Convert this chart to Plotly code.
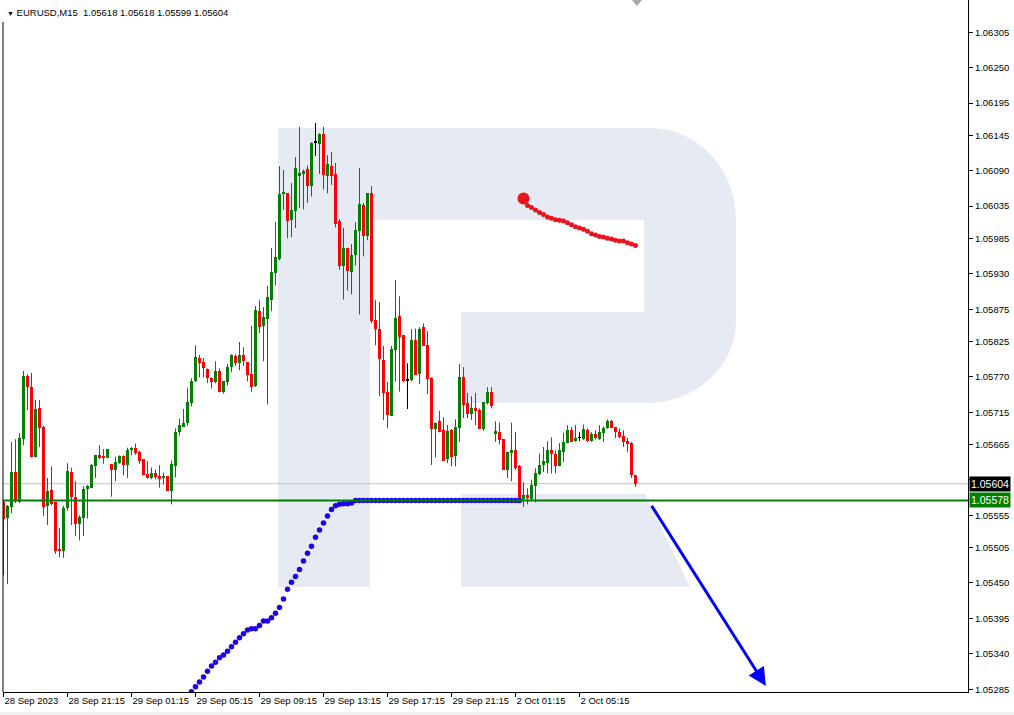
import plotly.graph_objects as go

# ---------------- data ----------------
symbol_title = "EURUSD,M15"
last_ohlc_text = "1.05618 1.05618 1.05599 1.05604"

time_labels = ["28 Sep 2023", "28 Sep 21:15", "29 Sep 01:15", "29 Sep 05:15", "29 Sep 09:15",
               "29 Sep 13:15", "29 Sep 17:15", "29 Sep 21:15", "2 Oct 01:15", "2 Oct 05:15"]
time_label_bars = [0, 16, 32, 48, 64, 80, 96, 112, 128, 144]

price_ticks = [1.06305, 1.06250, 1.06195, 1.06145, 1.06090, 1.06035, 1.05985, 1.05930, 1.05875,
               1.05825, 1.05770, 1.05715, 1.05665, 1.05610, 1.05555, 1.05505, 1.05450, 1.05395,
               1.05340, 1.05285]
price_tick_text = ["1.06305", "1.06250", "1.06195", "1.06145", "1.06090", "1.06035", "1.05985",
                   "1.05930", "1.05875", "1.05825", "1.05770", "1.05715", "1.05665", "1.05610",
                   "1.05555", "1.05505", "1.05450", "1.05395", "1.05340", "1.05285"]

opens = [1.05576, 1.05551, 1.05568, 1.05622, 1.05576, 1.05674, 1.05771, 1.05754, 1.05645, 1.05722,
         1.05692, 1.05570, 1.05594, 1.05576, 1.05502, 1.05500, 1.05567, 1.05622, 1.05584, 1.05541,
         1.05551, 1.05596, 1.05598, 1.05632, 1.05649, 1.05647, 1.05644, 1.05635, 1.05625, 1.05636,
         1.05647, 1.05633, 1.05656, 1.05659, 1.05653, 1.05642, 1.05619, 1.05613, 1.05620, 1.05616,
         1.05614, 1.05616, 1.05593, 1.05632, 1.05684, 1.05692, 1.05698, 1.05730, 1.05763, 1.05799,
         1.05793, 1.05782, 1.05768, 1.05762, 1.05779, 1.05746, 1.05762, 1.05785, 1.05802, 1.05791,
         1.05804, 1.05793, 1.05774, 1.05755, 1.05872, 1.05849, 1.05859, 1.05890, 1.05931, 1.05953,
         1.06054, 1.06055, 1.06013, 1.06027, 1.06082, 1.06085, 1.06092, 1.06066, 1.06134, 1.06131,
         1.06147, 1.06082, 1.06098, 1.06085, 1.06012, 1.05942, 1.05970, 1.05932, 1.05959, 1.05996,
         1.06036, 1.05988, 1.06055, 1.05858, 1.05845, 1.05796, 1.05746, 1.05709, 1.05811, 1.05864,
         1.05835, 1.05765, 1.05765, 1.05827, 1.05774, 1.05847, 1.05819, 1.05768, 1.05689, 1.05701,
         1.05687, 1.05642, 1.05687, 1.05647, 1.05690, 1.05769, 1.05729, 1.05713, 1.05721, 1.05718,
         1.05689, 1.05730, 1.05747, 1.05681, 1.05684, 1.05673, 1.05626, 1.05651, 1.05656, 1.05631,
         1.05581, 1.05586, 1.05581, 1.05600, 1.05619, 1.05633, 1.05636, 1.05656, 1.05650, 1.05631,
         1.05654, 1.05667, 1.05687, 1.05670, 1.05675, 1.05673, 1.05687, 1.05670, 1.05681, 1.05673,
         1.05683, 1.05690, 1.05701, 1.05692, 1.05684, 1.05678, 1.05670, 1.05667, 1.05618]
highs = [1.05578, 1.05571, 1.05669, 1.05673, 1.05683, 1.05779, 1.05774, 1.05776, 1.05734, 1.05734,
         1.05694, 1.05613, 1.05631, 1.05576, 1.05535, 1.05570, 1.05636, 1.05629, 1.05608, 1.05555,
         1.05600, 1.05602, 1.05635, 1.05649, 1.05664, 1.05658, 1.05658, 1.05635, 1.05646, 1.05648,
         1.05648, 1.05660, 1.05661, 1.05666, 1.05655, 1.05642, 1.05639, 1.05629, 1.05626, 1.05633,
         1.05621, 1.05616, 1.05640, 1.05690, 1.05705, 1.05720, 1.05753, 1.05768, 1.05819, 1.05804,
         1.05799, 1.05783, 1.05769, 1.05794, 1.05783, 1.05763, 1.05790, 1.05805, 1.05805, 1.05824,
         1.05816, 1.05793, 1.05849, 1.05880, 1.05889, 1.05878, 1.05911, 1.05970, 1.06010, 1.06097,
         1.06091, 1.06055, 1.06071, 1.06111, 1.06158, 1.06092, 1.06098, 1.06134, 1.06164, 1.06148,
         1.06158, 1.06114, 1.06119, 1.06102, 1.06015, 1.06001, 1.05970, 1.05976, 1.06010, 1.06094,
         1.06040, 1.06055, 1.06066, 1.05889, 1.05886, 1.05818, 1.05762, 1.05818, 1.05920, 1.05895,
         1.05835, 1.05791, 1.05844, 1.05845, 1.05847, 1.05853, 1.05841, 1.05769, 1.05699, 1.05717,
         1.05707, 1.05695, 1.05689, 1.05704, 1.05790, 1.05785, 1.05745, 1.05740, 1.05745, 1.05721,
         1.05731, 1.05754, 1.05754, 1.05701, 1.05699, 1.05673, 1.05654, 1.05699, 1.05684, 1.05633,
         1.05606, 1.05597, 1.05610, 1.05628, 1.05651, 1.05661, 1.05670, 1.05676, 1.05656, 1.05667,
         1.05683, 1.05695, 1.05692, 1.05695, 1.05684, 1.05696, 1.05690, 1.05684, 1.05687, 1.05695,
         1.05693, 1.05704, 1.05703, 1.05692, 1.05690, 1.05687, 1.05675, 1.05669, 1.05618]
lows = [1.05462, 1.05448, 1.05558, 1.05574, 1.05574, 1.05664, 1.05718, 1.05645, 1.05645, 1.05661,
        1.05554, 1.05540, 1.05570, 1.05495, 1.05490, 1.05489, 1.05562, 1.05540, 1.05523, 1.05516,
        1.05523, 1.05550, 1.05597, 1.05613, 1.05642, 1.05635, 1.05644, 1.05584, 1.05608, 1.05635,
        1.05617, 1.05613, 1.05648, 1.05649, 1.05635, 1.05617, 1.05612, 1.05611, 1.05611, 1.05598,
        1.05603, 1.05593, 1.05572, 1.05614, 1.05679, 1.05692, 1.05694, 1.05724, 1.05762, 1.05769,
        1.05769, 1.05760, 1.05752, 1.05760, 1.05746, 1.05744, 1.05757, 1.05777, 1.05787, 1.05780,
        1.05787, 1.05763, 1.05747, 1.05754, 1.05838, 1.05794, 1.05727, 1.05872, 1.05912, 1.05951,
        1.06029, 1.05985, 1.05987, 1.06001, 1.06032, 1.06030, 1.06040, 1.06050, 1.06113, 1.06085,
        1.06061, 1.06055, 1.06068, 1.06002, 1.05936, 1.05890, 1.05904, 1.05898, 1.05943, 1.05867,
        1.05957, 1.05982, 1.05853, 1.05819, 1.05740, 1.05703, 1.05690, 1.05709, 1.05763, 1.05747,
        1.05762, 1.05720, 1.05763, 1.05773, 1.05759, 1.05818, 1.05743, 1.05633, 1.05645, 1.05684,
        1.05640, 1.05636, 1.05631, 1.05631, 1.05669, 1.05706, 1.05706, 1.05703, 1.05695, 1.05689,
        1.05686, 1.05727, 1.05721, 1.05669, 1.05665, 1.05626, 1.05613, 1.05608, 1.05625, 1.05578,
        1.05568, 1.05572, 1.05577, 1.05575, 1.05617, 1.05622, 1.05620, 1.05620, 1.05620, 1.05631,
        1.05638, 1.05667, 1.05669, 1.05669, 1.05670, 1.05672, 1.05669, 1.05669, 1.05673, 1.05672,
        1.05669, 1.05689, 1.05690, 1.05675, 1.05675, 1.05661, 1.05653, 1.05613, 1.05599]
closes = [1.05550, 1.05569, 1.05622, 1.05578, 1.05675, 1.05771, 1.05754, 1.05646, 1.05720, 1.05691,
          1.05568, 1.05592, 1.05573, 1.05500, 1.05500, 1.05567, 1.05624, 1.05584, 1.05541, 1.05553,
          1.05596, 1.05601, 1.05633, 1.05648, 1.05644, 1.05644, 1.05658, 1.05625, 1.05637, 1.05647,
          1.05633, 1.05656, 1.05660, 1.05652, 1.05640, 1.05617, 1.05613, 1.05620, 1.05615, 1.05611,
          1.05615, 1.05593, 1.05634, 1.05685, 1.05695, 1.05698, 1.05731, 1.05763, 1.05801, 1.05791,
          1.05783, 1.05768, 1.05762, 1.05779, 1.05747, 1.05763, 1.05785, 1.05804, 1.05791, 1.05804,
          1.05794, 1.05773, 1.05754, 1.05873, 1.05847, 1.05863, 1.05894, 1.05932, 1.05956, 1.06054,
          1.06055, 1.06012, 1.06029, 1.06094, 1.06086, 1.06089, 1.06066, 1.06133, 1.06134, 1.06147,
          1.06083, 1.06100, 1.06082, 1.06008, 1.05942, 1.05970, 1.05934, 1.05959, 1.05998, 1.06038,
          1.05988, 1.06055, 1.05857, 1.05844, 1.05797, 1.05745, 1.05710, 1.05813, 1.05861, 1.05832,
          1.05763, 1.05765, 1.05827, 1.05773, 1.05845, 1.05818, 1.05766, 1.05689, 1.05699, 1.05684,
          1.05640, 1.05686, 1.05645, 1.05692, 1.05769, 1.05727, 1.05713, 1.05721, 1.05717, 1.05689,
          1.05731, 1.05747, 1.05724, 1.05686, 1.05672, 1.05626, 1.05654, 1.05656, 1.05628, 1.05580,
          1.05586, 1.05583, 1.05602, 1.05620, 1.05633, 1.05639, 1.05656, 1.05650, 1.05631, 1.05656,
          1.05669, 1.05687, 1.05669, 1.05675, 1.05675, 1.05689, 1.05670, 1.05681, 1.05675, 1.05684,
          1.05690, 1.05701, 1.05690, 1.05684, 1.05676, 1.05669, 1.05665, 1.05617, 1.05604]

bid_price = 1.05604
level_price = 1.05578

# blue dotted indicator (bar index -> price)
blue_start_bar = 46
blue_values = [1.05273, 1.05281, 1.05289, 1.05296, 1.05304, 1.05313, 1.05321, 1.05327, 1.05334, 1.05338,
               1.05344, 1.05351, 1.05358, 1.05365, 1.05371, 1.05377, 1.05379, 1.05379, 1.05384, 1.05391,
               1.05391, 1.05396, 1.05403, 1.05412, 1.05425, 1.05440, 1.05451, 1.05460, 1.05471, 1.05484,
               1.05496, 1.05507, 1.05521, 1.05532, 1.05543, 1.05554, 1.05564, 1.05570, 1.05572, 1.05573,
               1.05573, 1.05574, 1.05578, 1.05578, 1.05578, 1.05578, 1.05578, 1.05578, 1.05578, 1.05578,
               1.05578, 1.05578, 1.05578, 1.05578, 1.05578, 1.05578, 1.05578, 1.05578, 1.05578, 1.05578,
               1.05578, 1.05578, 1.05578, 1.05578, 1.05578, 1.05578, 1.05578, 1.05578, 1.05578, 1.05578,
               1.05578, 1.05578, 1.05578, 1.05578, 1.05578, 1.05578, 1.05578, 1.05578, 1.05578, 1.05578,
               1.05578, 1.05578, 1.05578, 1.05578]

# red dotted indicator (bar index -> price), first point drawn large
red_start_bar = 130
red_values = [1.06047, 1.06036, 1.06033, 1.06029, 1.06025, 1.06022, 1.06018, 1.06016, 1.06014, 1.06013,
              1.06012, 1.06009, 1.06006, 1.06003, 1.06001, 1.05999, 1.05996, 1.05992, 1.05990, 1.05988,
              1.05987, 1.05985, 1.05984, 1.05982, 1.05981, 1.05981, 1.05978, 1.05976, 1.05974]

# forecast arrow (bar index, price)
arrow_from = (161.8, 1.05572)
arrow_to = (190.6, 1.05290)

# ---------------- figure geometry ----------------
W, H = 1014, 715
ML, MR, MT, MB = 3, 46, 0, 23
PW, PH = W - ML - MR, H - MT - MB
BAR_PX = 4.0
x0 = -0.125
x_range = [x0, x0 + PW / BAR_PX]
y_top = 1.06355
y_span = PH / 64412.0
y_range = [y_top - y_span, y_top]


def px(x):
    return (x - ML) / PW


def py(y):
    return (MT + PH - y) / PH


GREEN = "#008000"
RED = "#ff0000"
BLACK = "#000000"
FONT = "Liberation Sans, Arial, sans-serif"

fig = go.Figure()

# candles grouped by colour
groups = {"up": ([], GREEN), "down": ([], RED), "doji": ([], BLACK)}
for i, (o, c) in enumerate(zip(opens, closes)):
    if c > o:
        groups["up"][0].append(i)
    elif c < o:
        groups["down"][0].append(i)
    else:
        groups["doji"][0].append(i)

min_body = 1.0 / 64412.0
for name, (idx, col) in groups.items():
    wx, wy = [], []
    for i in idx:
        wx += [i, i, None]
        wy += [lows[i], highs[i], None]
    fig.add_trace(go.Scatter(x=wx, y=wy, mode="lines", line=dict(color=col, width=1),
                             hoverinfo="skip", showlegend=False))
    fig.add_trace(go.Bar(
        x=idx,
        base=[min(opens[i], closes[i]) for i in idx],
        y=[max(abs(closes[i] - opens[i]), min_body) for i in idx],
        width=0.75, marker=dict(color=col, line=dict(width=0)),
        hoverinfo="skip", showlegend=False))

# blue dotted indicator
fig.add_trace(go.Scatter(
    x=list(range(blue_start_bar, blue_start_bar + len(blue_values))), y=blue_values,
    mode="markers", marker=dict(color="#1e00f0", size=5.5, line=dict(width=0)),
    hoverinfo="skip", showlegend=False))

# red dotted indicator
fig.add_trace(go.Scatter(
    x=list(range(red_start_bar + 1, red_start_bar + len(red_values))), y=red_values[1:],
    mode="markers", marker=dict(color="#e9141e", size=5, line=dict(width=0)),
    hoverinfo="skip", showlegend=False))
fig.add_trace(go.Scatter(
    x=[red_start_bar], y=[red_values[0]],
    mode="markers", marker=dict(color="#e9141e", size=12, line=dict(width=0)),
    hoverinfo="skip", showlegend=False))

shapes = []
# background "R" logo
logo_col = "#e6ebf3"
bowl = [("M", 278, 128), ("L", 650, 128), ("C", 697, 128, 736, 169, 736, 219), ("L", 736, 321),
        ("C", 736, 366, 696, 403, 647, 403), ("L", 461, 403), ("L", 461, 312), ("L", 644, 312),
        ("L", 644, 220), ("L", 370, 220), ("L", 370, 587), ("L", 278, 587)]
leg = [("M", 461, 494), ("L", 645, 494), ("L", 690, 587), ("L", 461, 587)]


def make_path(cmds):
    out = []
    for c in cmds:
        pts = c[1:]
        coords = " ".join(f"{px(pts[j]):.5f},{py(pts[j + 1]):.5f}" for j in range(0, len(pts), 2))
        out.append(f"{c[0]} {coords}")
    return " ".join(out) + " Z"


for p in (bowl, leg):
    shapes.append(dict(type="path", xref="paper", yref="paper", path=make_path(p),
                       fillcolor=logo_col, line=dict(width=0), layer="below"))

# bid line (grey) below candles
shapes.append(dict(type="line", xref="paper", yref="y", x0=0, x1=1, y0=bid_price, y1=bid_price,
                   line=dict(color="#c0c0c0", width=1), layer="below"))
# horizontal level (green) above
shapes.append(dict(type="line", xref="paper", yref="y", x0=0, x1=1, y0=level_price, y1=level_price,
                   line=dict(color=GREEN, width=2), layer="above"))
# left frame border
shapes.append(dict(type="line", xref="paper", yref="paper", x0=0, x1=0, y0=0, y1=py(22),
                   line=dict(color=BLACK, width=1), layer="above"))
# chart-shift marker at top
shapes.append(dict(type="path", xref="paper", yref="paper",
                   path=f"M {px(632):.5f},{py(0):.5f} L {px(642):.5f},{py(0):.5f} L {px(637):.5f},{py(6):.5f} Z",
                   fillcolor="#a8a8a8", line=dict(width=0), layer="above"))
# bottom window strip
shapes.append(dict(type="rect", xref="paper", yref="paper", x0=px(0), x1=px(W), y0=py(712), y1=py(H),
                   fillcolor="#f0f0f0", line=dict(width=0), layer="above"))

annotations = [
    dict(x=px(5), y=py(12), xref="paper", yref="paper", xanchor="left", yanchor="middle",
         text=f"<span style='font-size:7px'>▼</span> {symbol_title}  {last_ohlc_text}",
         showarrow=False, font=dict(family=FONT, size=9.5, color=BLACK)),
    dict(x=arrow_to[0], y=arrow_to[1], ax=arrow_from[0], ay=arrow_from[1],
         xref="x", yref="y", axref="x", ayref="y", text="", showarrow=True,
         arrowhead=2, arrowsize=1.2, arrowwidth=3, arrowcolor="#0000ff", standoff=0),
    dict(x=1.0, y=bid_price, xref="paper", yref="y", xanchor="left", yanchor="middle",
         xshift=1, text="1.05604", showarrow=False, bgcolor=BLACK, borderpad=1,
         font=dict(family=FONT, size=10.5, color="#ffffff")),
    dict(x=1.0, y=level_price, xref="paper", yref="y", xanchor="left", yanchor="middle",
         xshift=1, text="1.05578", showarrow=False, bgcolor=GREEN, borderpad=1,
         font=dict(family=FONT, size=10.5, color="#ffffff")),
]

fig.update_layout(
    width=W, height=H,
    margin=dict(l=ML, r=MR, t=MT, b=MB, pad=0, autoexpand=False),
    paper_bgcolor="#ffffff", plot_bgcolor="#ffffff",
    barmode="overlay", bargap=0,
    showlegend=False,
    shapes=shapes, annotations=annotations,
    xaxis=dict(range=x_range, showgrid=False, zeroline=False, showline=True, linecolor=BLACK,
               linewidth=1, ticks="outside", ticklen=4, tickcolor=BLACK, tickwidth=1,
               tickvals=time_label_bars, ticktext=time_labels, ticklabelposition="outside right",
               tickangle=0, automargin=False,
               tickfont=dict(family=FONT, size=9.5, color=BLACK), fixedrange=True),
    yaxis=dict(range=y_range, side="right", showgrid=False, zeroline=False, showline=True,
               linecolor=BLACK, linewidth=1, ticks="outside", ticklen=4, tickcolor=BLACK,
               tickwidth=1, tickvals=price_ticks, ticktext=price_tick_text, automargin=False,
               tickfont=dict(family=FONT, size=9.5, color=BLACK), fixedrange=True),
)

fig.write_html("out.html", config={"displayModeBar": False},
               post_script="document.body.style.margin='0';document.body.style.overflow='hidden';")
